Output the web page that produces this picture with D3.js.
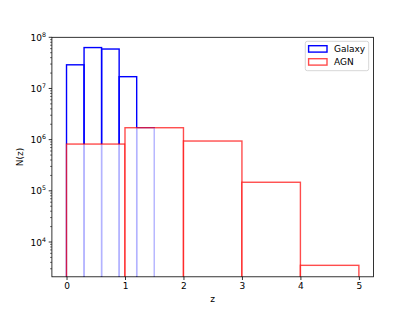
<!DOCTYPE html>
<html>
<head>
<meta charset="utf-8">
<script src="https://cdn.jsdelivr.net/npm/d3@7"></script>
<style>
  body { margin: 0; background: #fff; }
  text { font-family: "DejaVu Sans", sans-serif; }
</style>
</head>
<body>
<svg id="chart" width="415" height="311"></svg>
<script>
// Galaxy histogram (bin edges + counts)
const galaxyEdges = [0, 0.3, 0.6, 0.9, 1.2, 1.5];
const galaxyCounts = [2.9e7, 6.3e7, 5.9e7, 1.7e7, 1.7e6];

// AGN histogram
const agnEdges = [0, 1, 2, 3, 4, 5];
const agnCounts = [8.2e5, 1.71e6, 9.4e5, 1.47e5, 3.5e3];

const xTicks = [0, 1, 2, 3, 4, 5];
const yTickExps = [4, 5, 6, 7, 8];

const width = 415, height = 311;
const margin = { left: 51.9, right: 415 - 373.5, top: 37.3, bottom: 311 - 276.8 };
const plotW = width - margin.left - margin.right;
const plotH = height - margin.top - margin.bottom;

const svg = d3.select("#chart");

const x = d3.scaleLinear().domain([-0.25, 5.25]).range([margin.left, margin.left + plotW]);
const y = d3.scaleLog().domain([Math.pow(10, 3.32), 1e8]).range([margin.top + plotH, margin.top]);

// clip for bars
svg.append("defs").append("clipPath").attr("id", "clip")
    .append("rect")
    .attr("x", margin.left).attr("y", margin.top)
    .attr("width", plotW).attr("height", plotH);

function toBins(edges, counts) {
    return counts.map((c, i) => ({ x0: edges[i], x1: edges[i + 1], n: c }));
}

const bottomY = margin.top + plotH;

// Galaxy bars (no fill)
svg.append("g")
    .attr("clip-path", "url(#clip)")
    .selectAll("rect")
    .data(toBins(galaxyEdges, galaxyCounts))
    .enter().append("rect")
    .attr("x", d => x(d.x0))
    .attr("y", d => y(d.n))
    .attr("width", d => x(d.x1) - x(d.x0))
    .attr("height", d => bottomY + 5 - y(d.n))
    .attr("fill", "none")
    .attr("stroke", "#0000ff")
    .attr("stroke-width", 1.4);

// AGN bars (white fill, alpha)
svg.append("g")
    .attr("clip-path", "url(#clip)")
    .selectAll("rect")
    .data(toBins(agnEdges, agnCounts))
    .enter().append("rect")
    .attr("x", d => x(d.x0))
    .attr("y", d => y(d.n))
    .attr("width", d => x(d.x1) - x(d.x0))
    .attr("height", d => bottomY + 5 - y(d.n))
    .attr("fill", "#ffffff")
    .attr("fill-opacity", 0.7)
    .attr("stroke", "#ff0000")
    .attr("stroke-opacity", 0.7)
    .attr("stroke-width", 1.4);

// axes frame
svg.append("rect")
    .attr("x", margin.left).attr("y", margin.top)
    .attr("width", plotW).attr("height", plotH)
    .attr("fill", "none")
    .attr("stroke", "#000")
    .attr("stroke-width", 0.8);

// x axis
const xAxis = d3.axisBottom(x)
    .tickValues(xTicks)
    .tickSize(3.2)
    .tickPadding(2.5)
    .tickFormat(d3.format("d"));
const gx = svg.append("g")
    .attr("transform", `translate(0,${bottomY})`)
    .call(xAxis);
gx.select(".domain").remove();
gx.selectAll("text").attr("font-size", 9).attr("fill", "#000")
    .style("font-family", "DejaVu Sans, sans-serif");
gx.selectAll("line").attr("stroke-width", 0.8);

// y axis major ticks
const gy = svg.append("g");
yTickExps.forEach(e => {
    const yy = y(Math.pow(10, e));
    gy.append("line")
        .attr("x1", margin.left - 3.2).attr("x2", margin.left)
        .attr("y1", yy).attr("y2", yy)
        .attr("stroke", "#000").attr("stroke-width", 0.8);
    const t = gy.append("text")
        .attr("x", margin.left - 6)
        .attr("y", yy + 3.5)
        .attr("text-anchor", "end")
        .attr("font-size", 9);
    t.append("tspan").text("10");
    t.append("tspan").attr("dy", -4).attr("font-size", 6.3).text(e);
});

// y axis minor ticks
for (let e = 3; e < 8; e++) {
    for (let m = 2; m <= 9; m++) {
        const v = m * Math.pow(10, e);
        if (v < y.domain()[0]) continue;
        const yy = y(v);
        gy.append("line")
            .attr("x1", margin.left - 1.8).attr("x2", margin.left)
            .attr("y1", yy).attr("y2", yy)
            .attr("stroke", "#000").attr("stroke-width", 0.6);
    }
}

// axis labels
svg.append("text")
    .attr("x", margin.left + plotW / 2)
    .attr("y", 302)
    .attr("text-anchor", "middle")
    .attr("font-size", 9)
    .text("z");

svg.append("text")
    .attr("transform", `translate(23,${margin.top + plotH / 2}) rotate(-90)`)
    .attr("text-anchor", "middle")
    .attr("font-size", 9)
    .text("N(z)");

// legend
const legend = svg.append("g");
legend.append("rect")
    .attr("x", 305.3).attr("y", 41.3)
    .attr("width", 63.4).attr("height", 29.4)
    .attr("rx", 2)
    .attr("fill", "#fff")
    .attr("fill-opacity", 0.8)
    .attr("stroke", "#cccccc")
    .attr("stroke-width", 0.8);

const legendItems = [
    { label: "Galaxy", stroke: "#0000ff", opacity: 1, fill: "none" },
    { label: "AGN", stroke: "#ff0000", opacity: 0.7, fill: "#fff" }
];
legendItems.forEach((d, i) => {
    const ly = 45.7 + i * 13;
    legend.append("rect")
        .attr("x", 308.6).attr("y", ly)
        .attr("width", 18.4).attr("height", 6.4)
        .attr("fill", d.fill)
        .attr("stroke", d.stroke)
        .attr("stroke-opacity", d.opacity)
        .attr("stroke-width", 1.4);
    legend.append("text")
        .attr("x", 334)
        .attr("y", ly + 6.4)
        .attr("font-size", 9)
        .text(d.label);
});
</script>
</body>
</html>
